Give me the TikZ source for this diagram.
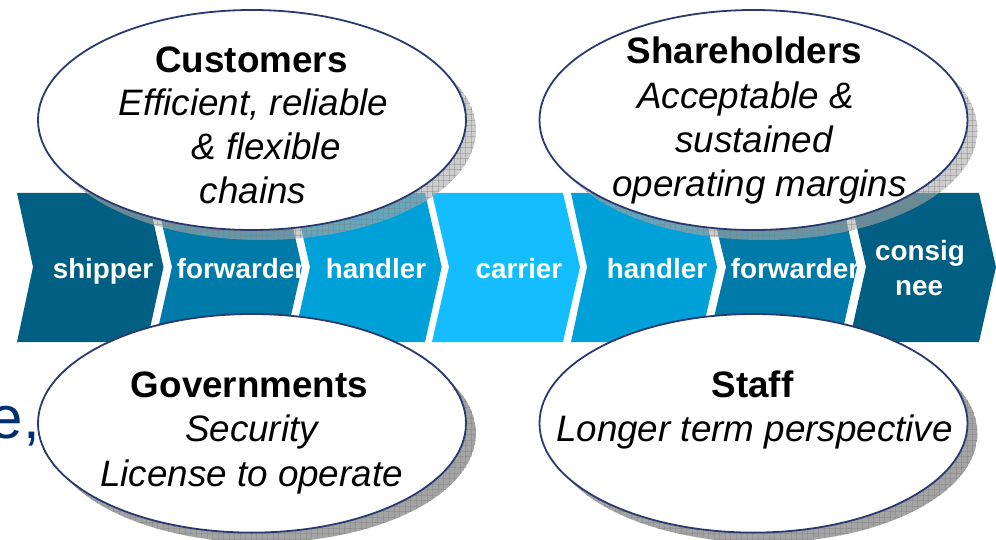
\documentclass[tikz,border=0pt]{standalone}
\usepackage{fontspec}
\setmainfont{Liberation Sans}
\usetikzlibrary{shapes.geometric}
\definecolor{cdark}{HTML}{005F83}
\definecolor{cmid}{HTML}{007AA8}
\definecolor{chand}{HTML}{00A0D8}
\definecolor{ccar}{HTML}{13BDFF}
\definecolor{cedge}{HTML}{2B3A6E}
\definecolor{cnavy}{HTML}{002E73}
\definecolor{shlight}{HTML}{ABABAB}
\definecolor{shdark}{HTML}{A4A4A4}
\definecolor{grlight}{HTML}{808080}
\definecolor{grdark}{HTML}{808080}
\tikzset{
  bubble/.style={ellipse,draw=cedge,line width=1.8pt,fill=white,minimum width=428pt,inner sep=0pt,outer sep=0pt},
  headline/.style={anchor=base,inner sep=0pt,font=\fontsize{36.8}{40}\selectfont\bfseries,text=black},
  bodyline/.style={anchor=base,inner sep=0pt,font=\fontsize{36.8}{40}\selectfont\itshape,text=black},
  stagelabel/.style={anchor=base,inner sep=0pt,font=\fontsize{27.8}{30}\selectfont\bfseries,text=white}
}
% centre x, centre y, y radius, fill colour, fill opacity, grid colour
\newcommand{\bubbleshadow}[6]{%
  \begin{scope}
    \clip (#1+10,#2+10) ellipse [x radius=214pt,y radius=#3pt];
    \fill[#4,fill opacity=#5] (#1+10,#2+10) ellipse [x radius=214pt,y radius=#3pt];
    \foreach \gx in {-220,-214.5,...,220} \draw[#6,line width=.3pt,opacity=.4] (#1+10+\gx,#2-110) -- (#1+10+\gx,#2+130);
    \foreach \gy in {-120,-114.5,...,120} \draw[#6,line width=.3pt,opacity=.4] (#1-210,#2+10+\gy) -- (#1+230,#2+10+\gy);
  \end{scope}}
\begin{document}
\begin{tikzpicture}[x=1pt,y=-1pt]
\useasboundingbox (0,0) rectangle (996,540);
\clip (0,0) rectangle (996,540);
\node[anchor=base east,inner sep=0pt,font=\fontsize{60}{64}\selectfont,text=cnavy] (frag) at (40,438) {e,};
% chain
\fill[cdark] (17,193) -- (147,193) -- (163.5,267) -- (147,342) -- (17,342) -- (33,267) -- cycle;
\fill[cmid] (155,193) -- (285,193) -- (302,267) -- (285,342) -- (155,342) -- (172,267) -- cycle;
\fill[chand] (293,193) -- (425,193) -- (441.7,267) -- (425,342) -- (293,342) -- (310,267) -- cycle;
\fill[ccar] (432,193) -- (563,193) -- (580,267) -- (563,342) -- (432,342) -- (449,267) -- cycle;
\fill[chand] (571,193) -- (700,193) -- (717,267) -- (700,342) -- (571,342) -- (587,267) -- cycle;
\fill[cmid] (708,193) -- (840,193) -- (857,267) -- (840,342) -- (708,342) -- (726,267) -- cycle;
\fill[cdark] (849,193) -- (979,193) -- (996,267) -- (979,342) -- (849,342) -- (866,267) -- cycle;
\node[stagelabel] (s1) at (103,278) {shipper};
\node[stagelabel] (s2) at (241,278) {forwarder};
\node[stagelabel] (s3) at (376,278) {handler};
\node[stagelabel] (s4) at (519,278) {carrier};
\node[stagelabel] (s5) at (657,278) {handler};
\node[stagelabel] (s6) at (795,278) {forwarder};
\node[stagelabel] (s7a) at (920,261) {consig};
\node[stagelabel] (s7b) at (919,295) {nee};
% bubbles
\bubbleshadow{252}{120}{110}{shlight}{.6}{grlight}
\bubbleshadow{753.5}{120}{110}{shlight}{.6}{grlight}
\bubbleshadow{252}{423.3}{109.3}{shdark}{1}{grdark}
\bubbleshadow{753.5}{423.3}{109.3}{shdark}{1}{grdark}
\node[bubble,minimum height=220pt] (customers) at (252,120) {};
\node[bubble,minimum height=220pt] (shareholders) at (753.5,120) {};
\node[bubble,minimum height=218.6pt] (governments) at (252,423.3) {};
\node[bubble,minimum height=218.6pt] (staff) at (753.5,423.3) {};
\node[headline] (c0) at (251.5,73) {Customers};
\node[bodyline] (c1) at (253.5,116) {Efficient, reliable};
\node[bodyline] (c2) at (266,160) {\& flexible};
\node[bodyline] (c3) at (253,204) {chains};
\node[headline] (h0) at (744.5,64) {Shareholders};
\node[bodyline] (h1) at (745.5,108.5) {Acceptable \&};
\node[bodyline] (h2) at (754,153) {sustained};
\node[bodyline] (h3) at (759.5,197) {operating margins};
\node[headline] (g0) at (249.5,397) {Governments};
\node[bodyline] (g1) at (251.5,441) {Security};
\node[bodyline] (g2) at (251.5,486) {License to operate};
\node[headline] (t0) at (752.5,397) {Staff};
\node[bodyline] (t1) at (754.5,441) {Longer term perspective};
\end{tikzpicture}
\end{document}
